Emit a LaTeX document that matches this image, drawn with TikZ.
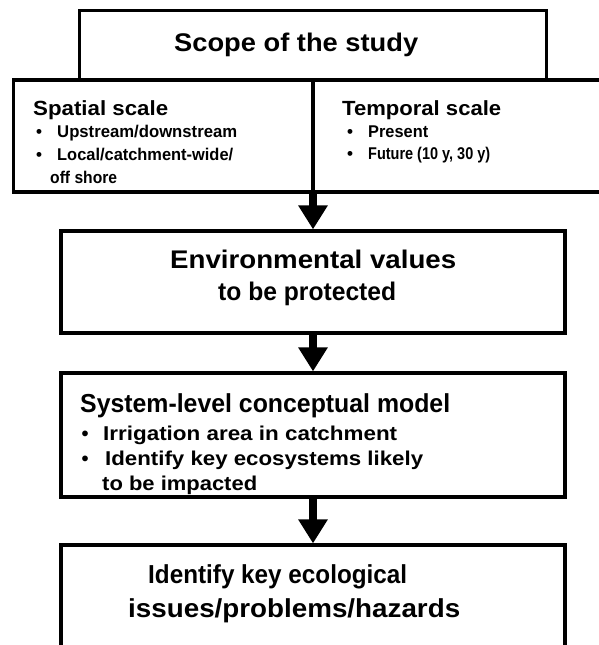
\documentclass[tikz,border=0pt]{standalone}
\usepackage{graphicx}
\usepackage{fontspec}
\setmainfont{Liberation Sans}
\usetikzlibrary{arrows.meta}

% one line of bold text: target width (pt), font size (pt), letter spacing, text
\newcommand\sizedline[4]{%
  \resizebox{#1pt}{\height}{\fontsize{#2pt}{#2pt}\selectfont\bfseries\addfontfeature{LetterSpace=#3}#4}}
\newcommand\bulletmark[1]{{\fontsize{#1pt}{#1pt}\selectfont\bfseries\textbullet}}

\begin{document}
\begin{tikzpicture}[x=1pt,y=-1pt,
  box/.style={draw=black, line width=3.2pt, fill=white, rectangle, inner sep=0pt},
  txt/.style={anchor=base west, inner sep=0pt},
  dot/.style={anchor=base, inner sep=0pt},
  flow/.style={draw=black, line width=7.5pt, -{Triangle[width=28pt,length=24pt]}}]

\fill[white] (0,0) rectangle (599,645);
\useasboundingbox (0,0) rectangle (599,645);

% boxes
\node[box, minimum width=467pt, minimum height=69.5pt] (scope) at (313,45.25) {};
\node[box, minimum width=299.5pt, minimum height=112pt] (spatial) at (163.25,136) {};
\node[box, minimum width=290pt, minimum height=112pt] (temporal) at (458,136) {};
\node[box, minimum width=504pt, minimum height=102pt] (env) at (313,282) {};
\node[box, minimum width=504pt, minimum height=124pt] (system) at (313,435) {};
\node[box, minimum width=504pt, minimum height=115pt] (hazards) at (313,602.5) {};

% connectors
\draw[flow] (env.north |- spatial.south) -- (env.north);
\draw[flow] (env.south) -- (system.north);
\draw[flow] (system.south) -- (hazards.north);

% scope of the study
\node[txt] (scopetitle) at (174,51) {\sizedline{244}{25.5}{0}{Scope of the study}};

% spatial scale
\node[txt] (spatialtitle) at (33,115) {\sizedline{135}{20.5}{0}{Spatial scale}};
\node[dot] (sdot1) at (39,137) {\bulletmark{17}};
\node[txt] (supdown) at (57,137) {\sizedline{180}{17}{0}{Upstream/downstream}};
\node[dot] (sdot2) at (39,160) {\bulletmark{17}};
\node[txt] (slocal) at (57,160) {\sizedline{176}{17}{0}{Local/catchment-wide/}};
\node[txt] (soff) at (50,183) {\sizedline{67}{17}{0}{off shore}};

% temporal scale
\node[txt] (temporaltitle) at (342,115) {\sizedline{159}{20.5}{0}{Temporal scale}};
\node[dot] (tdot1) at (350,137) {\bulletmark{17}};
\node[txt] (tpresent) at (368,137) {\sizedline{60}{17}{0}{Present}};
\node[dot] (tdot2) at (350,159) {\bulletmark{17}};
\node[txt] (tfuture) at (368,159) {\sizedline{122}{17}{0}{Future (10 y, 30 y)}};

% environmental values
\node[txt] (env1) at (170,268) {\sizedline{286}{25.5}{0}{Environmental values}};
\node[txt] (env2) at (218,300) {\sizedline{178}{25.5}{0}{to be protected}};

% system-level conceptual model
\node[txt] (systitle) at (80,412) {\sizedline{370}{26}{0}{System-level conceptual model}};
\node[dot] (ydot1) at (85,440) {\bulletmark{20}};
\node[txt] (yirr) at (103,440) {\sizedline{294}{20}{0}{Irrigation area in catchment}};
\node[dot] (ydot2) at (85,465) {\bulletmark{20}};
\node[txt] (ykey) at (105,465) {\sizedline{318}{20}{0}{Identify key ecosystems likely}};
\node[txt] (yimp) at (102,490) {\sizedline{155}{20}{0}{to be impacted}};

% ecological issues
\node[txt] (haz1) at (148,583) {\sizedline{259}{26}{0}{Identify key ecological}};
\node[txt] (haz2) at (128,617) {\sizedline{332}{26}{0}{issues/problems/hazards}};
\end{tikzpicture}
\end{document}
